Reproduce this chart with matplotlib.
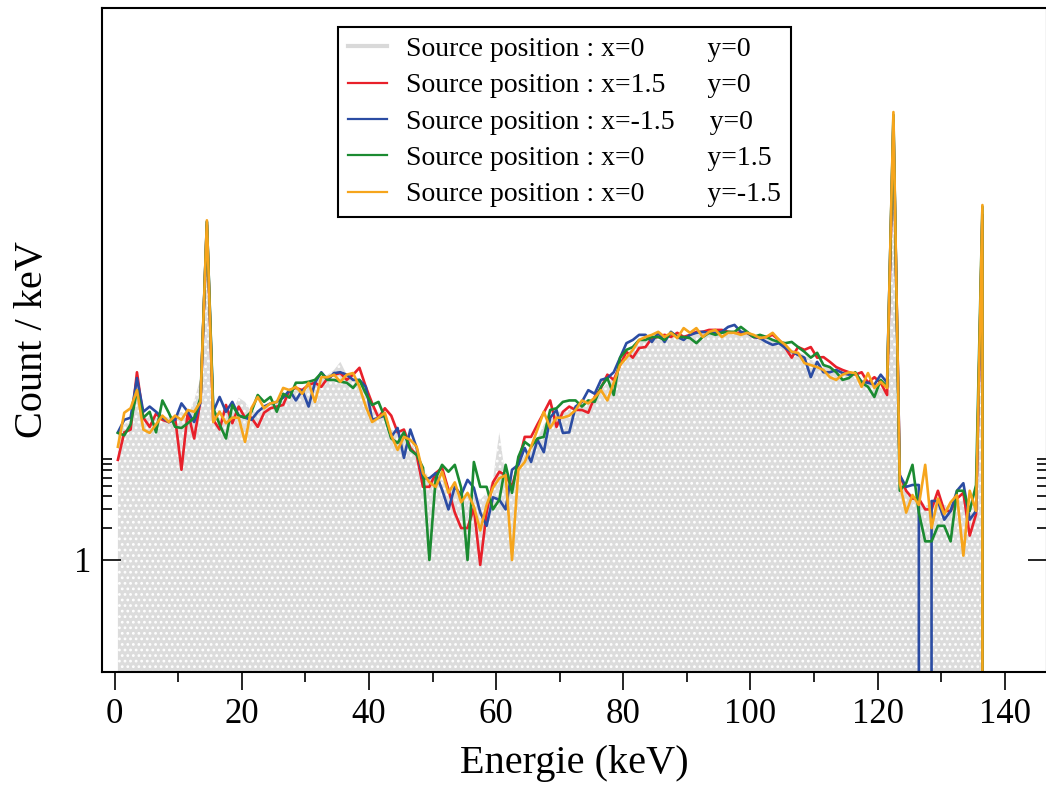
import matplotlib.pyplot as plt
import numpy as np
from matplotlib.ticker import FixedLocator, NullFormatter, MultipleLocator
from matplotlib.lines import Line2D

plt.rcParams['font.family'] = ['Liberation Serif', 'DejaVu Serif']
plt.rcParams['hatch.linewidth'] = 1.2

# bins de 1 keV (centres), le dernier bin est vide
energie = np.arange(138) + 0.5

ref_x0_y0 = [
    16, 19, 21, 45, 22, 23, 22, 23, 22, 23,
    25, 23, 32, 52, 1600, 25, 26, 25, 25, 34,
    31, 25, 26, 29, 30, 31, 34, 38, 40, 42,
    45, 48, 52, 56, 62, 74, 56, 52, 50, 38,
    29, 25, 21, 17, 16, 17.6, 13.6, 10.4, 7.4, 5.9,
    5.9, 5.7, 4.9, 4.6, 4.1, 4.3, 4.1, 3.7, 4.3, 5.7,
    16, 5.9, 5.7, 7.9, 9.8, 11.7, 14, 19, 23, 25,
    25, 26, 29, 30, 32, 34.5, 40, 47, 52, 66,
    86, 100, 114, 124, 127, 133, 127, 133, 133, 133,
    133, 139, 139, 139, 142, 142, 142, 142, 139, 139,
    133, 127, 124, 119, 114, 107, 96, 92, 86, 77,
    74, 69, 65, 59, 56, 56, 53, 50, 47, 43,
    42, 38, 15800, 5.9, 4.6, 4.1, 3.7, 3.3, 3.3, 3.7,
    3.3, 3.3, 3.7, 3.7, 3.0, 3.3, 2150, 0]

x15_y0 = [
    8.8, 16, 17, 59, 22, 18, 24, 21, 20, 22,
    7.1, 25, 14, 32, 1450, 21, 17, 29, 19.5, 28,
    22, 22, 18, 24.5, 27, 28, 29, 40, 42, 40,
    45, 47, 43, 52, 56, 58, 50, 56, 65, 43,
    30, 22, 27, 23, 16, 17, 11.4, 9.8, 4.9, 4.9,
    6.6, 7.4, 4.6, 2.8, 2.0, 2.0, 3.1, 0.9, 2.8, 5.4,
    6.8, 6.3, 4.9, 8.2, 14.5, 14.5, 19, 24.5, 32, 18,
    25, 28, 26, 26, 24.5, 34.5, 42, 56, 50, 69,
    92, 81, 100, 102, 124, 127, 133, 127, 139, 127,
    133, 142, 142, 148, 148, 148, 142, 139, 139, 139,
    127, 124, 127, 133, 119, 100, 81, 102, 96, 102,
    81, 82, 74, 66, 62, 59, 56, 59, 47, 53,
    47, 36, 12600, 6.3, 4.5, 3.8, 3.8, 3.0, 3.0, 4.5,
    2.9, 2.9, 3.8, 4.3, 1.7, 2.7, 1800, 0]

xm15_y0 = [
    16, 21, 22, 52, 25, 28, 25, 22, 20, 21,
    30, 25, 20, 31, 1550, 25, 34.5, 25, 31, 23,
    22, 21, 25, 28, 30, 31, 34, 40, 32, 40,
    28, 47, 59, 50, 58, 59, 56, 50, 50, 43,
    21, 22, 23, 14.5, 17.6, 9.2, 17, 11.4, 5.9, 5.9,
    6.6, 4.6, 3.0, 4.9, 4.1, 5.7, 4.8, 2.8, 2.1, 3.9,
    3.7, 3.0, 7.1, 7.9, 11.4, 8.4, 13.6, 10.4, 22, 26,
    15.8, 16, 28, 31, 40, 37, 50, 52, 59, 81,
    111, 119, 133, 133, 114, 139, 114, 142, 127, 119,
    133, 139, 142, 139, 139, 142, 158, 165, 142, 139,
    127, 124, 114, 107, 111, 100, 92, 86, 81, 53,
    74, 59, 59, 62, 58, 56, 58, 48, 47, 45,
    56, 47, 14000, 6.3, 4.9, 5.1, 5.1, 0, 3.6, 3.6,
    2.4, 2.9, 4.5, 5.3, 2.4, 2.9, 1800, 0]

x0_y15 = [
    15.8, 15, 19, 40, 22, 25, 16, 32, 24.5, 18,
    17.6, 19.5, 22, 34, 1550, 27, 19, 14, 29, 23,
    22, 25, 36, 31, 34.5, 25, 37, 34, 47, 47,
    48, 50, 58, 50, 50, 48, 47, 42, 50, 37,
    29, 31, 22, 14, 12.7, 16, 10.9, 9.8, 7.4, 1.0,
    5.9, 7.9, 6.8, 7.9, 4.8, 1.0, 8.4, 4.9, 4.9, 3.0,
    3.7, 7.9, 4.3, 9.4, 13, 11.7, 14, 14.5, 26, 27,
    31, 32, 32, 28, 32, 31, 43, 52, 36, 81,
    96, 102, 119, 119, 127, 127, 119, 139, 127, 127,
    124, 111, 127, 139, 133, 139, 142, 142, 158, 142,
    127, 133, 127, 119, 114, 111, 114, 102, 92, 81,
    90, 69, 66, 59, 50, 52, 59, 47, 43, 34.5,
    50, 43, 15800, 4.5, 5.3, 7.9, 2.8, 1.5, 1.5, 2.1,
    2.1, 1.5, 4.5, 4.5, 2.9, 5.1, 2150, 0]

x0_ym15 = [
    11.7, 24.5, 27, 40, 17, 15.8, 19, 23, 20, 23,
    21, 26, 25, 31, 1600, 20, 25, 19.5, 22, 22,
    13, 27, 34.5, 27, 30, 31, 42, 40, 43, 37,
    47, 31, 53, 53, 56, 48, 56, 58, 43, 28,
    20, 22, 24.5, 15, 10.9, 14.5, 13.6, 11.7, 6.6, 5.4,
    4.9, 6.8, 4.3, 5.4, 3.5, 4.3, 3.2, 1.9, 3.3, 4.8,
    5.9, 6.3, 1.0, 7.1, 8.4, 11.7, 17, 25, 17.6, 22,
    22, 23, 26, 32, 30, 34, 40, 32, 47, 69,
    81, 96, 119, 127, 133, 142, 127, 139, 124, 154,
    139, 154, 127, 142, 148, 127, 139, 139, 133, 139,
    133, 124, 127, 139, 119, 107, 92, 90, 72, 69,
    66, 62, 53, 50, 56, 59, 58, 43, 58, 42,
    48, 42, 16800, 5.3, 2.8, 4.1, 3.3, 7.9, 2.0, 3.8,
    2.7, 3.5, 4.1, 1.1, 4.5, 2.9, 2230, 0]

labels = [
    "Source position : x=0         y=0",
    "Source position : x=1.5      y=0",
    "Source position : x=-1.5     y=0",
    "Source position : x=0         y=1.5",
    "Source position : x=0         y=-1.5",
]
couleurs = ['#d9d9d9', '#e8202a', '#2b4ca3', '#1b8b31', '#f6a51c']

fig = plt.figure(figsize=(10.46, 7.88), dpi=100)
ax = fig.add_axes([102 / 1046, 116 / 788, 945 / 1046, 664 / 788])
ax.set_yscale('log')

ax.fill_between(energie, ref_x0_y0, 1e-3, facecolor='#dcdcdc', edgecolor='white',
                hatch='...', linewidth=0, zorder=1)
series = [x15_y0, xm15_y0, x0_y15, x0_ym15]
for s, c in zip(series, couleurs[1:]):
    ax.plot(energie, s, color=c, lw=1.9, zorder=2)

ax.set_xlim(-2.0, 146.66)
ax.set_ylim(0.0878, 1.61e5)

ax.set_yticks([1])
ax.set_yticklabels(['1'])
ax.yaxis.set_minor_locator(FixedLocator(range(2, 10)))
ax.yaxis.set_minor_formatter(NullFormatter())
ax.xaxis.set_major_locator(MultipleLocator(20))
ax.xaxis.set_minor_locator(MultipleLocator(10))

ax.tick_params(axis='y', which='both', direction='in', left=True, right=True,
               width=1.2, labelsize=25, pad=8)
ax.tick_params(axis='y', which='major', length=14)
ax.tick_params(axis='y', which='minor', length=7)
ax.tick_params(axis='x', which='both', direction='out', top=False, width=1.2,
               labelsize=25, pad=6)
ax.tick_params(axis='x', which='major', length=13)
ax.tick_params(axis='x', which='minor', length=7)
for sp in ax.spines.values():
    sp.set_linewidth(1.5)

ax.set_xlabel('Energie (keV)', fontsize=29, labelpad=10)
ax.set_ylabel('Count / keV', fontsize=29, labelpad=16)

handles = [Line2D([], [], color=c, lw=1.6) for c in couleurs]
handles[0].set_linewidth(3)
leg = ax.legend(handles, labels, loc='upper left', bbox_to_anchor=(338 / 1046, 1 - 27 / 788),
                bbox_transform=fig.transFigure, fontsize=20, frameon=True, fancybox=False,
                edgecolor='black', framealpha=1, borderaxespad=0, borderpad=0.35,
                labelspacing=0.39, handlelength=1.4, handletextpad=0.7)
leg.get_frame().set_linewidth(1.5)

fig.savefig('out.png', dpi=100)
